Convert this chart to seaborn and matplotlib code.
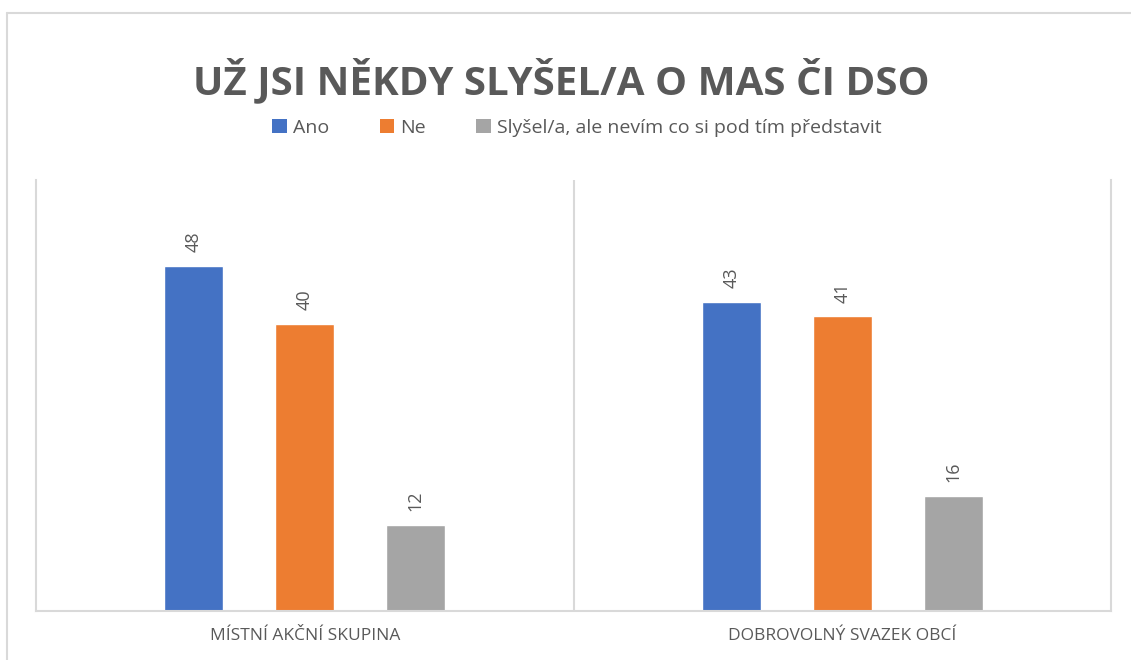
import pandas as pd
import matplotlib.pyplot as plt
import seaborn as sns
from matplotlib.patches import Patch
from matplotlib.lines import Line2D

categories = ['MÍSTNÍ AKČNÍ SKUPINA', 'DOBROVOLNÝ SVAZEK OBCÍ']
answers = ['Ano', 'Ne', 'Slyšel/a, ale nevím co si pod tím představit']
ano = [48, 43]
ne = [40, 41]
nevim = [12, 16]
colors = ['#4472C4', '#ED7D31', '#A5A5A5']
text_gray = '#595959'
line_gray = '#D9D9D9'

rows = []
for series, vals in zip(answers, [ano, ne, nevim]):
    for cat, v in zip(categories, vals):
        rows.append({'kategorie': cat, 'odpoved': series, 'pocet': v})
df = pd.DataFrame(rows)

sns.set_style('white')
plt.rcParams['font.family'] = ['Open Sans', 'DejaVu Sans']

fig = plt.figure(figsize=(11.31, 6.6), dpi=100)
ax = fig.add_axes([36 / 1131, 49 / 660, 1075 / 1131, 431 / 660])

sns.barplot(data=df, x='kategorie', y='pocet', hue='odpoved', order=categories,
            hue_order=answers, palette=colors, width=0.62, gap=0.47,
            saturation=1, ax=ax, legend=False)

for cont in ax.containers:
    ax.bar_label(cont, rotation=90, padding=10, color=text_gray, fontsize=13)

ax.set_xlim(-0.5, 1.5)
ax.set_ylim(0, 60)
ax.set_yticks([])
ax.set_xlabel('')
ax.set_ylabel('')
ax.tick_params(axis='x', length=0, pad=12, labelsize=12.5, labelcolor=text_gray)
ax.axvline(0.5, color=line_gray, lw=1.5)
for side in ['left', 'right', 'bottom']:
    ax.spines[side].set_color(line_gray)
    ax.spines[side].set_linewidth(1.5)
ax.spines['top'].set_visible(False)

handles = [Patch(facecolor=c, edgecolor='none') for c in colors]
ax.legend(handles, answers, ncol=3, frameon=False, loc='center',
          bbox_to_anchor=(0.51, 1 - 128 / 660), bbox_transform=fig.transFigure,
          handlelength=0.75, handleheight=0.75, handletextpad=0.3,
          columnspacing=2.6, fontsize=14, labelcolor=text_gray)

fig.text(0.496, 1 - 80 / 660, 'UŽ JSI NĚKDY SLYŠEL/A O MAS ČI DSO', ha='center',
         va='center', fontsize=29, fontweight='bold', color=text_gray)

# outer chart frame (top and left edges visible)
fig.add_artist(Line2D([7 / 1131, 1.0], [1 - 13 / 660, 1 - 13 / 660],
                      transform=fig.transFigure, color=line_gray, lw=1.5))
fig.add_artist(Line2D([7 / 1131, 7 / 1131], [0, 1 - 13 / 660],
                      transform=fig.transFigure, color=line_gray, lw=1.5))

fig.savefig('out.png', dpi=100)
